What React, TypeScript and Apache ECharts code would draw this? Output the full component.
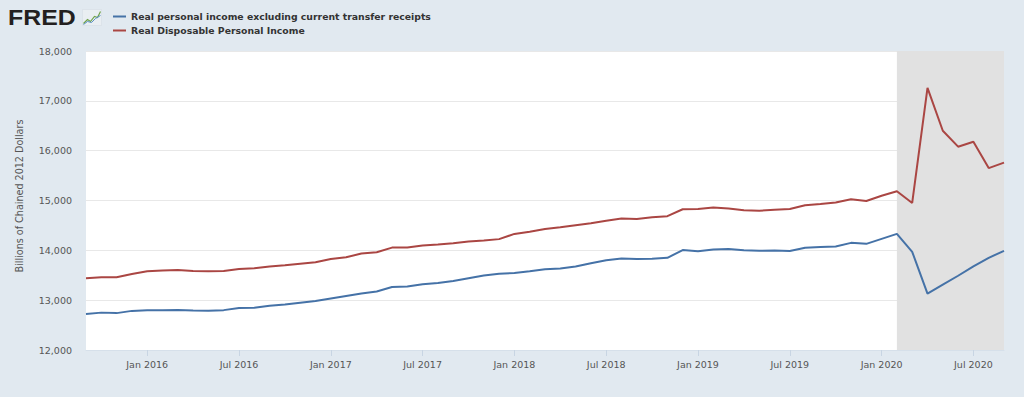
import React, { useEffect, useRef } from "react";
import * as echarts from "echarts";

const MONTHS = ["Jan","Feb","Mar","Apr","May","Jun","Jul","Aug","Sep","Oct","Nov","Dec"];

// Monthly categories Sep 2015 .. Sep 2020
const categories: string[] = [];
for (let y = 2015, m = 9; y < 2020 || (y === 2020 && m <= 9); ) {
  categories.push(`${y}-${String(m).padStart(2, "0")}`);
  m++;
  if (m > 12) { m = 1; y++; }
}

const incomeExTransfers = [
  12720, 12750, 12740, 12785, 12800, 12800, 12805, 12795, 12790, 12800,
  12845, 12850, 12890, 12915, 12950, 12985, 13035, 13085, 13135, 13175,
  13265, 13275, 13320, 13345, 13385, 13440, 13495, 13530, 13545, 13580,
  13620, 13635, 13675, 13740, 13800, 13835, 13825, 13830, 13850, 14005,
  13980, 14015, 14025, 14000, 13990, 13995, 13985, 14050, 14065, 14075,
  14150, 14130, 14230, 14330, 13970, 13130, 13310, 13490, 13680, 13850,
  13990,
];

const disposableIncome = [
  13440, 13460, 13460, 13525, 13580, 13595, 13605, 13585, 13580, 13585,
  13625, 13640, 13675, 13700, 13730, 13760, 13825, 13860, 13935, 13960,
  14055, 14055, 14095, 14115, 14140, 14175, 14195, 14225, 14330, 14375,
  14430, 14465, 14505, 14545, 14595, 14640, 14630, 14665, 14685, 14825,
  14830, 14860, 14840, 14805, 14795, 14815, 14830, 14905, 14930, 14960,
  15025, 14990, 15095, 15185, 14950, 17260, 16400, 16080, 16180, 15650,
  15760,
];

const recessionStart = "2020-02";
const recessionEnd = "2020-09";

const seriesNames = [
  "Real personal income excluding current transfer receipts",
  "Real Disposable Personal Income",
];

const yAxisTitle = "Billions of Chained 2012 Dollars";

const FONT = "DejaVu Sans";

function isLabelMonth(v: string) {
  const m = v.slice(5);
  return m === "01" || m === "07";
}

export default function App() {
  const ref = useRef<HTMLDivElement>(null);
  useEffect(() => {
    if (!ref.current) return;
    const chart = echarts.init(ref.current, null, { renderer: "svg" });
    chart.setOption({
      animation: false,
      backgroundColor: "#e1e9f0",
      textStyle: { fontFamily: FONT },
      grid: {
        left: 86, right: 20, top: 51, bottom: 47,
        show: true, backgroundColor: "#ffffff", borderWidth: 0,
      },
      legend: {
        orient: "vertical",
        left: 108, top: 6,
        itemWidth: 13, itemHeight: 2, itemGap: 3,
        icon: "rect",
        selectedMode: false,
        textStyle: { fontFamily: FONT, fontSize: 9.3, fontWeight: "bold", color: "#333333", lineHeight: 11 },
        data: seriesNames,
      },
      graphic: [
        {
          type: "text", left: 8, top: 6,
          scaleX: 1.13,
          style: { text: "FRED", fontFamily: "Liberation Sans", fontWeight: "bold", fontSize: 22, fill: "#231f20" },
        },
        {
          type: "group", left: 81, top: 9,
          children: [
            { type: "rect", shape: { x: 0, y: 0, width: 19, height: 16 }, style: { fill: "#e9eef2", stroke: "#d3dbe2", lineWidth: 0.5 } },
            { type: "polyline", shape: { points: [[1, 14], [5, 10], [8, 12], [12, 7], [15, 8], [18, 2]] }, style: { stroke: "#6fa24a", lineWidth: 1.2, fill: "none" } },
            { type: "polyline", shape: { points: [[1, 15], [5, 12], [9, 13], [13, 9], [18, 6]] }, style: { stroke: "#5a8fc6", lineWidth: 1, fill: "none" } },
          ],
        },
        {
          type: "text", x: 19, y: 196, rotation: Math.PI / 2,
          style: {
            text: yAxisTitle, fontFamily: FONT, fontSize: 9.6, fill: "#555555",
            align: "center", verticalAlign: "middle",
          },
        },
      ],
      xAxis: {
        type: "category",
        data: categories,
        boundaryGap: false,
        axisLine: { show: true, lineStyle: { color: "#d6e0ea" } },
        axisTick: {
          show: true, length: 6,
          interval: (i: number, v: string) => isLabelMonth(v),
          lineStyle: { color: "#c8d5e3" },
        },
        axisLabel: {
          interval: (i: number, v: string) => isLabelMonth(v),
          formatter: (v: string) => `${MONTHS[parseInt(v.slice(5), 10) - 1]} ${v.slice(0, 4)}`,
          color: "#555555", fontFamily: FONT, fontSize: 9.5, margin: 9,
        },
        splitLine: { show: false },
      },
      yAxis: {
        type: "value",
        min: 12000, max: 18000, interval: 1000,
        axisLine: { show: false },
        axisTick: { show: false },
        axisLabel: {
          color: "#555555", fontFamily: FONT, fontSize: 9.5, margin: 14,
          formatter: (v: number) => v.toLocaleString("en-US"),
        },
        splitLine: { lineStyle: { color: "#e8e8e8", width: 1 } },
      },
      series: [
        {
          name: seriesNames[0],
          type: "line",
          data: incomeExTransfers,
          showSymbol: false,
          lineStyle: { color: "#4572a7", width: 2 },
          itemStyle: { color: "#4572a7" },
          z: 3,
          markArea: {
            silent: true,
            itemStyle: { color: "#e1e1e1" },
            data: [[{ xAxis: recessionStart }, { xAxis: recessionEnd }]],
          },
        },
        {
          name: seriesNames[1],
          type: "line",
          data: disposableIncome,
          showSymbol: false,
          lineStyle: { color: "#aa4643", width: 2 },
          itemStyle: { color: "#aa4643" },
          z: 3,
        },
      ],
    });
    return () => chart.dispose();
  }, []);
  return (
    <div
      ref={ref}
      style={{ position: "fixed", left: 0, top: 0, width: 1024, height: 397 }}
    />
  );
}
